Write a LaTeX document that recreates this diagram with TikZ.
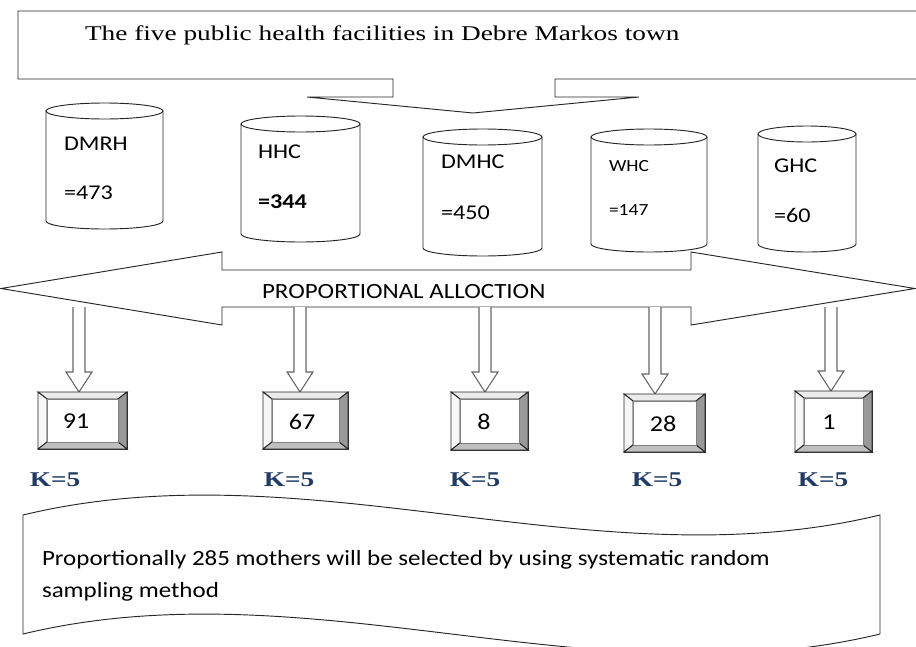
\documentclass[tikz,border=0pt]{standalone}
\usepackage{fontspec}
\setmainfont{Carlito}[FakeStretch=1.15]
\newfontfamily\timesfont{Liberation Serif}[FakeStretch=1.3]
\usepackage{tikz}
\usetikzlibrary{shapes,arrows}
\usepackage{xcolor}
\definecolor{kBlue}{HTML}{1F3B66}

\begin{document}
\begin{tikzpicture}[
  x=0.75pt, y=-0.75pt,
  every node/.style={inner sep=0pt, outer sep=0pt},
  outline/.style={draw=black!85, line width=0.7pt},
  titleText/.style={font=\timesfont\fontsize{15.75}{18}\selectfont, anchor=base west},
  facility/.style={font=\fontsize{15.75}{18}\selectfont, anchor=base west},
  facilitySmall/.style={font=\fontsize{12.75}{15}\selectfont, anchor=base west},
  allocText/.style={font=\fontsize{16.3}{18}\selectfont, anchor=base west},
  downArrow/.style={draw=black!60, fill=white, line width=0.8pt},
  bevelTop/.style={outline, fill=black!8},
  bevelLeft/.style={outline, fill=black!3},
  bevelRight/.style={outline, fill=black!40},
  bevelBottom/.style={outline, fill=black!25},
  sampleSize/.style={font=\fontsize{17}{18}\selectfont},
  kValue/.style={font=\timesfont\bfseries\fontsize{15.75}{18}\selectfont, text=kBlue},
  noteText/.style={font=\fontsize{16.3}{24}\selectfont, align=left, anchor=base west}]

  \useasboundingbox (0,0) rectangle (916,646);
  \clip (0,0) rectangle (916,646);

  % callout with the five facilities
  \draw[outline] (18,11) -- (920,11) -- (920,79) -- (555,79) -- (555,97) -- (639,97)
    -- (473,113) -- (307,97) -- (393,97) -- (393,79) -- (18,79) -- cycle;
  \node[titleText] (title) at (85,40) {The five public health facilities in Debre Markos town};

  % facilities
  \foreach \l/\r/\t/\b in {46/163/103/229, 241/360/116/242, 423/542/129/256, 591/707/129/252, 758/856/126/252}
  {
    \draw[outline] ({(\l+\r)/2},\t+8) ellipse [x radius={(\r-\l)/2}, y radius=8];
    \draw[outline] (\l,\t+8) -- (\l,\b-8) arc [start angle=180, end angle=0, x radius={(\r-\l)/2}, y radius=8] -- (\r,\t+8);
  }
  \node[facility] (nDMRH) at (64,150) {DMRH};
  \node[facility] (vDMRH) at (64,199) {=473};
  \node[facility] (nHHC) at (258,158) {HHC};
  \node[facility, font=\bfseries\fontsize{15.75}{18}\selectfont] (vHHC) at (258,208) {=344};
  \node[facility] (nDMHC) at (441,168) {DMHC};
  \node[facility] (vDMHC) at (441,219) {=450};
  \node[facilitySmall] (nWHC) at (609,171) {WHC};
  \node[facilitySmall] (vWHC) at (609,215) {=147};
  \node[facility] (nGHC) at (774,172) {GHC};
  \node[facility] (vGHC) at (774,222) {=60};

  % proportional allocation
  \draw[outline] (1,288.5) -- (222,252) -- (222,270) -- (691,270) -- (691,252) -- (915,288.5)
    -- (691,325) -- (691,307) -- (222,307) -- (222,325) -- cycle;
  \node[allocText] (alloc) at (262,298) {PROPORTIONAL ALLOCTION};

  \foreach \x/\tip in {79/392, 300/392, 485/392, 655/394, 831/391}
    \draw[downArrow] (\x-6,307) -- (\x-6,\tip-20) -- (\x-13,\tip-20) -- (\x,\tip)
      -- (\x+13,\tip-20) -- (\x+6,\tip-20) -- (\x+6,307);

  % sample sizes
  \foreach \l/\r/\t/\b/\c/\v/\nm in {38/127/392/449/76/91/sDMRH, 263/348/392/449/302/67/sHHC,
    451/528/392/450/484/8/sDMHC, 624/705/394/452/663/28/sWHC, 795/872/391/452/829/1/sGHC}
  {
    \draw[outline] (\l,\t) rectangle (\r,\b);
    \draw[bevelTop] (\l,\t) -- (\r,\t) -- (\r-9,\t+7) -- (\l+9,\t+7) -- cycle;
    \draw[bevelLeft] (\l,\t) -- (\l+9,\t+7) -- (\l+9,\b-7) -- (\l,\b) -- cycle;
    \draw[bevelRight] (\r,\t) -- (\r,\b) -- (\r-9,\b-7) -- (\r-9,\t+7) -- cycle;
    \draw[bevelBottom] (\l,\b) -- (\r,\b) -- (\r-9,\b-7) -- (\l+9,\b-7) -- cycle;
    \draw[outline, draw=black!50, fill=white] (\l+9,\t+7) rectangle (\r-9,\b-7);
    \node[sampleSize] (\nm) at ({\c},{(\t+\b)/2+1}) {\v};
  }

  \foreach \x [count=\i] in {55,289,475,657,823}
    \node[kValue] (k\i) at (\x,480) {K=5};

  % selection note
  \draw[outline] (23,515) .. controls (309,446) and (594,584) .. (880,515) -- (880,634)
    .. controls (594,703) and (309,565) .. (23,634) -- cycle;
  \node[noteText] (note) at (42,597) {Proportionally 285 mothers will be selected by using systematic random\\sampling method};
\end{tikzpicture}
\end{document}
